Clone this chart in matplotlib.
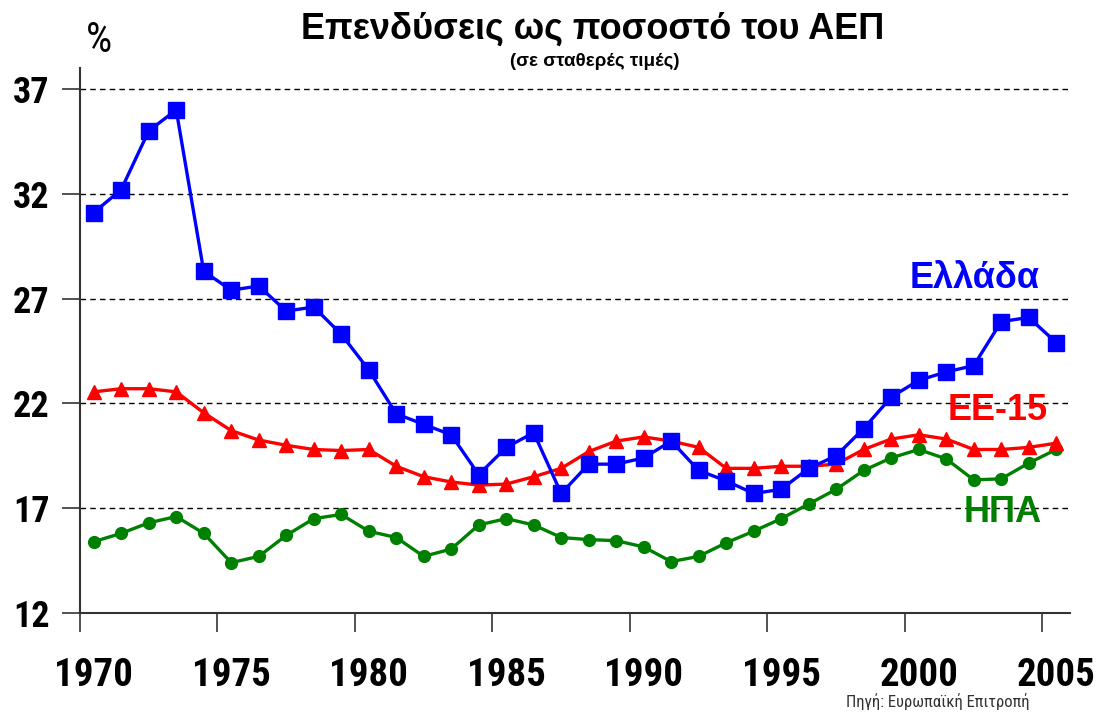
import matplotlib
matplotlib.use("Agg")
import matplotlib.pyplot as plt
import numpy as np

WIDE = ["Liberation Sans", "DejaVu Sans"]
NARROW = ["Liberation Sans Narrow", "Arial Narrow", "Roboto Condensed", "DejaVu Sans"]
plt.rcParams["font.family"] = WIDE

years = list(range(1970, 2006))
greece = [31.1, 32.2, 35.0, 36.0, 28.3, 27.4, 27.6, 26.4, 26.6, 25.3,
          23.6, 21.5, 21.0, 20.5, 18.6, 19.9, 20.6, 17.7, 19.1, 19.1,
          19.4, 20.2, 18.8, 18.3, 17.7, 17.9, 18.9, 19.5, 20.8, 22.3,
          23.1, 23.5, 23.8, 25.9, 26.1, 24.9]
eu15 = [22.55, 22.7, 22.7, 22.55, 21.55, 20.7, 20.25, 20.0, 19.8, 19.75,
        19.8, 19.0, 18.5, 18.25, 18.1, 18.15, 18.5, 18.9, 19.7, 20.2,
        20.4, 20.2, 19.9, 18.9, 18.9, 19.0, 19.0, 19.1, 19.8, 20.3,
        20.5, 20.3, 19.8, 19.8, 19.9, 20.1]
usa = [15.4, 15.8, 16.3, 16.6, 15.8, 14.4, 14.7, 15.7, 16.5, 16.7,
       15.9, 15.6, 14.7, 15.05, 16.2, 16.5, 16.2, 15.6, 15.5, 15.45,
       15.15, 14.45, 14.7, 15.35, 15.9, 16.5, 17.2, 17.9, 18.8, 19.4,
       19.8, 19.35, 18.35, 18.4, 19.15, 19.8]
y_ticks = [12, 17, 22, 27, 32, 37]
label_years = [1970, 1975, 1980, 1985, 1990, 1995, 2000, 2005]

x = np.arange(len(years))

fig = plt.figure(figsize=(11, 7.13), dpi=100)
ax = fig.add_axes([0.0727, 0.1403, 0.9, 0.7643])

for v in y_ticks[1:]:
    ax.axhline(v, color="black", linestyle=(0, (4, 3)), linewidth=1.0, zorder=1)

ax.plot(x, usa, color="#008000", linewidth=2.4, marker="o", markersize=8.5, zorder=3)
ax.plot(x, eu15, color="#ff0000", linewidth=2.4, marker="^", markersize=9.5, zorder=3)
ax.plot(x, greece, color="#0000ff", linewidth=2.4, marker="s", markersize=11, zorder=4)

ax.set_xlim(-0.5, len(years) - 0.5)
ax.set_ylim(12, 38)
ax.set_yticks(y_ticks)
ax.set_yticklabels([str(v) for v in y_ticks], fontsize=26, fontweight="bold",
                   family=NARROW, stretch="condensed")
ax.set_xticks(np.arange(-0.5, len(years) - 1, 5))
ax.set_xticklabels([])
ax.tick_params(axis="x", length=14, width=1.2, color="#333333")
ax.tick_params(axis="y", length=13, width=1.2, color="#333333", pad=9)
for yr in label_years:
    ax.text(years.index(yr), -0.114, str(yr), transform=ax.get_xaxis_transform(),
            ha="center", va="center", fontsize=28, fontweight="bold",
            family=NARROW, stretch="condensed")

for side in ("top", "right"):
    ax.spines[side].set_visible(False)
for side in ("left", "bottom"):
    ax.spines[side].set_color("#333333")
    ax.spines[side].set_linewidth(1.5)

W, H = 1100, 713
fig.text(975 / W, 1 - 279 / H, "Ελλάδα", color="#0000ff", fontsize=26,
         fontweight="bold", ha="center", va="center")
fig.text(998 / W, 1 - 410 / H, "ΕΕ-15", color="#ff0000", fontsize=26,
         fontweight="bold", ha="center", va="center")
fig.text(1003 / W, 1 - 512 / H, "ΗΠΑ", color="#008000", fontsize=26,
         fontweight="bold", ha="center", va="center")

fig.text(0.539, 1 - 29 / H, "Επενδύσεις ως ποσοστό του ΑΕΠ", ha="center", va="center",
         fontsize=26, fontweight="bold")
fig.text(0.541, 1 - 61 / H, "(σε σταθερές τιμές)", ha="center", va="center",
         fontsize=13.5, fontweight="bold")
fig.text(99 / W, 1 - 40 / H, "%", ha="center", va="center", fontsize=30,
         family=NARROW, stretch="condensed")
fig.text(938 / W, 1 - 702 / H, "Πηγή: Ευρωπαϊκή Επιτροπή", ha="center", va="center",
         fontsize=12, color="#333333", family=NARROW, stretch="condensed")

fig.savefig("out.png", dpi=100)
